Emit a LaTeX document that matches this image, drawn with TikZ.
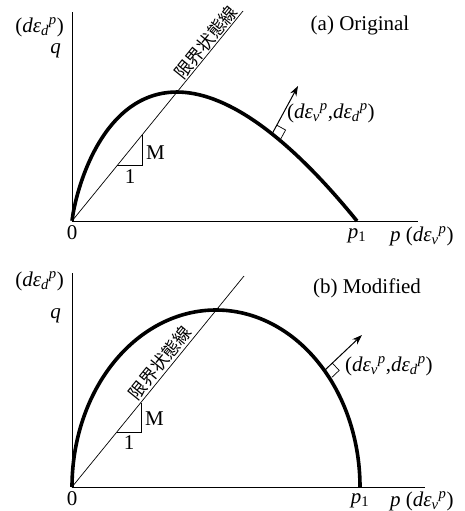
\documentclass[tikz,border=0pt]{standalone}
\usepackage{fontspec}
\setmainfont{Liberation Serif}
\newfontfamily\jpfont{Noto Sans CJK JP}
\usetikzlibrary{arrows.meta}
\newcommand\depsd{\textit{dε}\textsubscript{\textit{d}}\textsuperscript{\textit{p}}}
\newcommand\depsv{\textit{dε}\textsubscript{\textit{v}}\textsuperscript{\textit{p}}}
\begin{document}
\begin{tikzpicture}[x=1pt,y=-1pt,
  axis/.style={line width=0.9pt},
  csl/.style={line width=0.7pt},
  yield/.style={line width=3.6pt},
  slope/.style={line width=0.7pt},
  normal/.style={line width=1pt,-{Stealth[length=10pt,width=7pt]}},
  lbl/.style={inner sep=0pt,font=\fontsize{21}{24}\selectfont},
  jp/.style={inner sep=1.5pt,font=\jpfont\fontsize{17.5}{19}\selectfont,rotate=50.9,anchor=south}]
\useasboundingbox (0,0) rectangle (465,511);
% ---------------- (a) Original ----------------
\coordinate (Oa) at (72,221);
\coordinate (Ya) at (72,12);
\coordinate (Xa) at (418,221);
\coordinate (Ca) at (243,11);
\draw[axis] (Oa) -- (Ya);
\draw[axis] (Oa) -- (Xa);
\draw[csl] (Oa) -- (Ca);
\draw[yield] plot[domain=0.02:285,samples=250,smooth] ({72+\x},{221-1.23*\x*ln(285/\x)});
\node[jp] (csla) at (213.6,48.8) {限界状態線};
\coordinate (Sa1) at (117,165.6);
\coordinate (Sa2) at (142,165.6);
\coordinate (Sa3) at (142,135);
\draw[slope] (Sa1) -- (Sa2) -- (Sa3);
\node[lbl,anchor=west] (Ma) at (146,153) {M};
\node[lbl] (onea) at (130,177) {1};
\coordinate (Ba) at (272,134);
\coordinate (Ta) at (298,86);
\draw[normal] (Ba) -- (Ta);
\coordinate (Qa1) at (276.8,125.2);
\coordinate (Qa2) at (285.6,130.0);
\coordinate (Qa3) at (280.8,138.8);
\draw[slope] (Qa1) -- (Qa2) -- (Qa3);
\node[lbl,anchor=west] (va) at (287,113) {(\depsv,\depsd)};
\node[lbl] (ta) at (360,25) {(a) Original};
\node[lbl,anchor=east] (dqa) at (64,27) {(\depsd)};
\node[lbl,anchor=east] (qa) at (61,51) {\textit{q}};
\node[lbl] (za) at (72,233) {0};
\node[lbl] (p1a) at (357,236) {\textit{p}\textsubscript{1}};
\node[lbl,anchor=west] (pa) at (390,236) {\textit{p} (\depsv)};
% ---------------- (b) Modified ----------------
\coordinate (Ob) at (72,487);
\coordinate (Yb) at (72,273);
\coordinate (Xb) at (425,487);
\coordinate (Cb) at (244,276);
\draw[axis] (Ob) -- (Yb);
\draw[axis] (Ob) -- (Xb);
\draw[csl] (Ob) -- (Cb);
\draw[yield] plot[domain=180:0,samples=200,smooth] ({216+144*cos(\x)},{487-177*sin(\x)});
\node[jp] (cslb) at (167.8,369.2) {限界状態線};
\coordinate (Sb1) at (117,432);
\coordinate (Sb2) at (141,432);
\coordinate (Sb3) at (141,402.5);
\draw[slope] (Sb1) -- (Sb2) -- (Sb3);
\node[lbl,anchor=west] (Mb) at (145,419) {M};
\node[lbl] (oneb) at (129,443) {1};
\coordinate (Bb) at (325,370);
\coordinate (Tb) at (362,335);
\draw[normal] (Bb) -- (Tb);
\coordinate (Qb1) at (332.3,363.1);
\coordinate (Qb2) at (339.2,370.4);
\coordinate (Qb3) at (331.9,377.3);
\draw[slope] (Qb1) -- (Qb2) -- (Qb3);
\node[lbl,anchor=west] (vb) at (345,366) {(\depsv,\depsd)};
\node[lbl] (tb) at (367,288) {(b) Modified};
\node[lbl,anchor=east] (dqb) at (64,281) {(\depsd)};
\node[lbl,anchor=east] (qb) at (61,316) {\textit{q}};
\node[lbl] (zb) at (72,499) {0};
\node[lbl] (p1b) at (360,501) {\textit{p}\textsubscript{1}};
\node[lbl,anchor=west] (pb) at (390,501) {\textit{p} (\depsv)};
\end{tikzpicture}
\end{document}
